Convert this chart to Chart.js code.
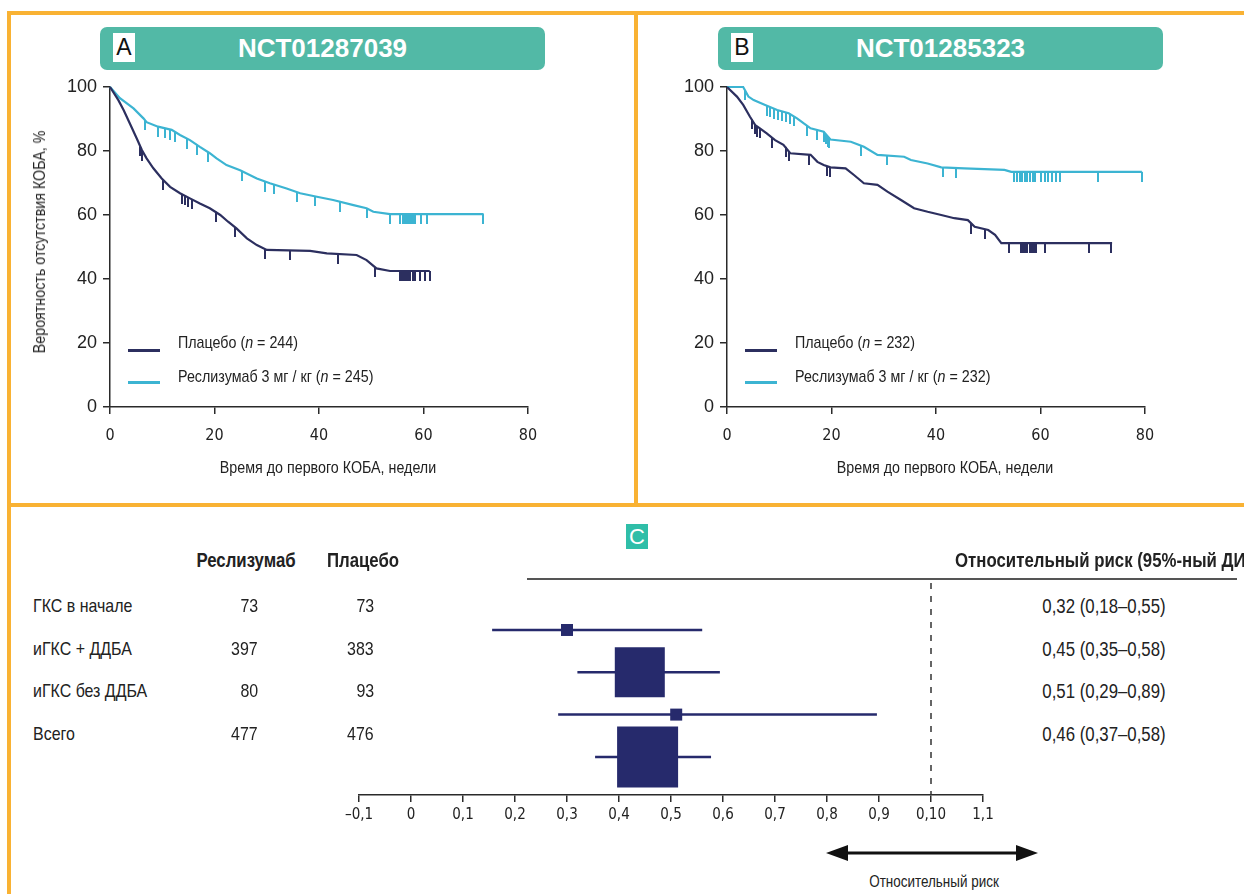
<!DOCTYPE html>
<html lang="ru">
<head>
<meta charset="UTF-8">
<title>Реслизумаб: время до первого КОБА</title>
<script src="https://cdn.jsdelivr.net/npm/chart.js"></script>
<style>
  body { margin: 0; background: #fff; }
  #page { position: relative; width: 1244px; height: 894px; overflow: hidden; background: #fff;
          font-family: 'Liberation Sans', Arial, sans-serif; color: #222; }
  .frame { position: absolute; background: #f9b233; }
  .head { position: absolute; top: 27px; width: 445px; height: 43px; background: #52b9a6; border-radius: 7px; }
  .head .letter { position: absolute; left: 13px; top: 6px; width: 22px; height: 29px; background: #fff; color: #111;
                  font-size: 23px; line-height: 29px; text-align: center; }
  .head .name { position: absolute; left: 0; right: 0; top: 0; text-align: center; color: #fff;
                font-weight: bold; font-size: 26px; line-height: 43px; }
  canvas { position: absolute; }
  /* узкий шрифт: Liberation Sans, сжатый по горизонтали */
  .t { position: absolute; white-space: nowrap; font-size: 19px; line-height: 22px; }
  .t.left { transform: scaleX(0.84); transform-origin: 0 50%; }
  .t.right { transform: scaleX(0.84); transform-origin: 100% 50%; }
  .t.center { transform: translateX(-50%) scaleX(0.84); }
  .t.vert { transform: translate(-50%, -50%) rotate(-90deg) scaleX(0.84); }
  .b { font-weight: bold; }
  .key { position: absolute; width: 32px; height: 2.5px; }
</style>
</head>
<body>
<div id="page">
  <div class="frame" style="left:7px;top:11px;width:1237px;height:4px"></div>
  <div class="frame" style="left:7px;top:11px;width:4px;height:883px"></div>
  <div class="frame" style="left:634px;top:11px;width:4px;height:494px"></div>
  <div class="frame" style="left:7px;top:503px;width:1237px;height:4px"></div>

  <div class="head" style="left:100px"><div class="name">NCT01287039</div><div class="letter">A</div></div>
  <div class="head" style="left:718px"><div class="name">NCT01285323</div><div class="letter">B</div></div>

  <canvas id="kmA" width="560" height="420" style="left:20px;top:75px"></canvas>
  <canvas id="kmB" width="560" height="420" style="left:637px;top:75px"></canvas>

  <div style="position:absolute;left:626px;top:524px;width:22px;height:25px;background:#2fbea8;color:#fff;
              font-size:22px;line-height:25px;text-align:center">C</div>
  <div style="position:absolute;left:527px;top:578px;width:710px;height:2px;background:#555"></div>
  <canvas id="forest" width="680" height="280" style="left:330px;top:560px"></canvas>

  <svg style="position:absolute;left:820px;top:841px" width="224" height="24">
    <line x1="20" y1="12" x2="204" y2="12" stroke="#111" stroke-width="3"/>
    <polygon points="6,12 28,4 28,20" fill="#111"/>
    <polygon points="218,12 196,4 196,20" fill="#111"/>
  </svg>
</div>

<script>
// Панель A: NCT01287039 (неделя, % без КОБА)
const placeboA = [[0,100],[1.6,95.9],[2.6,92.8],[3.8,88.6],[5.1,84],[6.1,80.3],[7,77.7],[8.3,74.6],[9.9,71.4],
  [11.5,68.8],[13.4,66.8],[15.3,65.2],[17.2,63.6],[19.1,62.1],[21.1,60],[22.6,57.9],[24.2,55.8],[26.2,52.7],
  [28.1,50.6],[30,49.1],[38.3,48.8],[41.5,48],[47.2,47.5],[49.1,45.9],[51,43.3],[53.6,42.5],[61.2,42.5]];
const reslizA = [[0,100],[1.9,96.5],[4.5,93.3],[6.4,90.2],[7,89],[9.2,87.6],[11.8,86.6],[13.4,85],[15.3,83.4],
  [17.2,81.3],[19.1,79.3],[20.4,77.7],[22.3,75.6],[24.9,74],[28.1,71.4],[30.6,69.9],[33.8,68.3],[36.4,66.8],
  [39.6,65.7],[42.7,64.7],[46.6,63.1],[49.1,62.1],[50.4,61],[53.6,60.3],[71.5,60.3]];
const placeboACens = [[5.8,81.5],[6.2,80],[10.2,71],[13.7,66.6],[14.3,66.1],[15,65.5],[15.6,64.9],[20.2,61],
  [23.9,56.2],[29.7,49.3],[34.4,49],[43.7,47.8],[50.7,43.7],[55.5,42.5],[55.9,42.5],[56.3,42.5],[56.7,42.5],
  [57.1,42.5],[57.5,42.5],[57.9,42.5],[58.3,42.5],[59.3,42.5],[60.3,42.5],[61.2,42.5]];
const reslizACens = [[6.7,89.6],[9.2,87.6],[10.5,87.1],[11.5,86.7],[12.4,86],[14.7,83.9],[16.6,82],[18.8,79.6],
  [25.2,73.8],[29.7,70.4],[31.3,69.6],[35.7,67.2],[39.2,65.8],[44,64.2],[49.1,62.1],[53.6,60.3],[55.5,60.3],
  [56,60.3],[56.4,60.3],[56.8,60.3],[57.2,60.3],[57.6,60.3],[58,60.3],[58.4,60.3],[59.6,60.3],[60.6,60.3],[71.4,60.3]];

// Панель B: NCT01285323
const placeboB = [[0,100],[1.9,97],[3.1,94.4],[4.4,90.7],[5.4,88.1],[6.3,87.1],[7.6,85.5],[9.2,83.4],[10.8,81.9],
  [12.1,79.3],[16,78.8],[17.3,76.6],[18.5,75.6],[19.8,74.9],[22.7,74.6],[24.3,72.5],[26.2,69.9],[28.8,69.4],
  [30.7,67.3],[33.3,64.7],[35.8,62.1],[38.4,61],[41,60],[43.5,59],[46.1,58.4],[47.4,56.3],[50,55.3],[51.3,53.8],
  [52.5,51.2],[73.7,51.2]];
const reslizB = [[0,100],[3.1,100],[4.1,97],[5.1,95.9],[7.3,94.4],[9.6,92.8],[11.8,91.8],[13.4,90.2],[14.7,88.6],
  [16,87.1],[18.5,86],[19.8,83.6],[23.7,82.9],[26.2,81.3],[28.8,78.8],[33.9,78.2],[35.2,77.2],[38.4,76.1],
  [41,74.9],[45.4,74.6],[53.1,74.1],[54.4,73.5],[79.4,73.5]];
const placeboBCens = [[4.7,89.9],[5.3,88.4],[5.8,87.6],[6.3,87.1],[8.6,84.2],[11.2,81.3],[11.8,79.9],[15.6,78.9],
  [19.2,75.2],[19.8,74.9],[46.7,57.3],[49.4,55.5],[54,51.2],[56.3,51.2],[56.7,51.2],[57.1,51.2],[57.5,51.2],
  [57.9,51.2],[58.3,51.2],[58.7,51.2],[59.2,51.2],[60.8,51.2],[69.2,51.2],[73.5,51.2]];
const reslizBCens = [[3.5,99],[7.6,94.2],[8.3,93.7],[9,93.2],[9.8,92.7],[10.5,92.4],[11.2,92.1],[12,91.6],[12.8,90.8],
  [15.3,87.9],[17.3,86.5],[18.5,86],[18.9,85.3],[19.3,84.5],[19.6,84],[25.6,81.7],[30.6,78.6],[41.3,74.9],[43.8,74.7],
  [55,73.5],[55.5,73.5],[56,73.5],[56.5,73.5],[57,73.5],[57.5,73.5],[58,73.5],[58.5,73.5],[59,73.5],[60,73.5],
  [60.8,73.5],[61.4,73.5],[62.2,73.5],[63,73.5],[63.7,73.5],[71.1,73.5],[79.4,73.5]];

const kmXTicks = [0, 20, 40, 60, 80];
const kmYTicks = [0, 20, 40, 60, 80, 100];
const armNames = ['Плацебо', 'Реслизумаб 3 мг / кг'];
const armNA = [244, 245];
const armNB = [232, 232];

// Панель C: подгруппы
const subgroups = ['ГКС в начале', 'иГКС + ДДБА', 'иГКС без ДДБА', 'Всего'];
const nResliz = [73, 397, 80, 477];
const nPlacebo = [73, 383, 93, 476];
const rrText = ['0,32 (0,18–0,55)', '0,45 (0,35–0,58)', '0,51 (0,29–0,89)', '0,46 (0,37–0,58)'];
const rrPoint = [0.30, 0.44, 0.51, 0.455];
const rrLow = [0.156, 0.32, 0.283, 0.354];
const rrHigh = [0.56, 0.594, 0.896, 0.577];
const forestRows = [1, 2, 3, 4];
const forestTicks = [-0.1, 0, 0.1, 0.2, 0.3, 0.4, 0.5, 0.6, 0.7, 0.8, 0.9, 1.0, 1.1];
const forestTickLabels = ['–0,1', '0', '0,1', '0,2', '0,3', '0,4', '0,5', '0,6', '0,7', '0,8', '0,9', '0,10', '1,1'];

const NARROW = "'DejaVu Sans Condensed', 'Liberation Sans Narrow', sans-serif";
const NAVY = '#2c2f5f';
const TEAL = '#3cb4d2';
const FOREST = '#262a6c';
const AXIS = '#2a2a2a';
const squareSide = [12, 50, 12, 61];   // px
const forestYMin = -0.11, forestYMax = 4.9;

const page = document.getElementById('page');
function addText(txt, x, y, align, extra) {
  const d = document.createElement('div');
  d.className = 't ' + align + (extra && extra.bold ? ' b' : '');
  d.innerHTML = txt;
  if (align === 'vert') { d.style.top = y + 'px'; d.style.left = x + 'px'; }
  else d.style.top = (y - 11) + 'px';
  if (align === 'right') d.style.right = (1244 - x) + 'px';
  else if (align !== 'vert') d.style.left = x + 'px';
  if (extra && extra.size) d.style.fontSize = extra.size + 'px';
  page.appendChild(d);
}

// отметка цензурирования: вертикальный штрих вниз от кривой
function censorMark(color) {
  const c = document.createElement('canvas');
  c.width = 2; c.height = 20;
  const g = c.getContext('2d');
  g.fillStyle = color;
  g.fillRect(0, 10, 2, 10);
  return c;
}

const xy = arr => arr.map(p => ({ x: p[0], y: p[1] }));

function kmChart(id, placebo, resliz, placeboCens, reslizCens) {
  new Chart(document.getElementById(id), {
    type: 'scatter',
    data: {
      datasets: [
        { data: xy(placebo), showLine: true, borderColor: NAVY, borderWidth: 2.2, pointRadius: 0, clip: false },
        { data: xy(resliz), showLine: true, borderColor: TEAL, borderWidth: 2.2, pointRadius: 0, clip: false },
        { data: xy(placeboCens), pointStyle: censorMark(NAVY), pointRadius: 5, clip: false },
        { data: xy(reslizCens), pointStyle: censorMark(TEAL), pointRadius: 5, clip: false }
      ]
    },
    options: {
      responsive: false,
      animation: false,
      events: [],
      layout: { autoPadding: false, padding: { left: 0, top: 12, right: 52, bottom: 0 } },
      plugins: { legend: { display: false }, tooltip: { enabled: false } },
      scales: {
        x: {
          type: 'linear', min: 0, max: 80,
          afterBuildTicks: s => { s.ticks = kmXTicks.map(v => ({ value: v })); },
          afterFit: s => { s.height = 88; },
          grid: { drawOnChartArea: false, tickLength: 7, color: AXIS, lineWidth: 1.5 },
          border: { color: AXIS, width: 1.5 },
          ticks: { padding: 12, color: '#222', font: { family: NARROW, size: 16 } }
        },
        y: {
          type: 'linear', min: 0, max: 100,
          afterBuildTicks: s => { s.ticks = kmYTicks.map(v => ({ value: v })); },
          afterFit: s => { s.width = 90; s.paddingTop = 0; s.paddingBottom = 0; },
          grid: { drawOnChartArea: false, tickLength: 7, color: AXIS, lineWidth: 1.5 },
          border: { color: AXIS, width: 1.5 },
          ticks: { padding: 6, color: '#222', font: { family: "'Liberation Sans', Arial, sans-serif", size: 18 } }
        }
      }
    }
  });
}

kmChart('kmA', placeboA, reslizA, placeboACens, reslizACens);
kmChart('kmB', placeboB, reslizB, placeboBCens, reslizBCens);

// подписи осей и легенды панелей A и B
addText('Вероятность отсутствия КОБА, %', 40, 242, 'vert', { size: 17 });
[[110, armNA], [727, armNB]].forEach(([axisX, ns]) => {
  addText('Время до первого КОБА, недели', axisX + 218, 468, 'center', { size: 17 });
  [NAVY, TEAL].forEach((col, i) => {
    const k = document.createElement('div');
    k.className = 'key';
    k.style.left = (axisX + 18) + 'px';
    k.style.top = (349 + i * 32) + 'px';
    k.style.background = col;
    page.appendChild(k);
    addText(armNames[i] + ' (<i>n</i> = ' + ns[i] + ')', axisX + 68, 343 + i * 34, 'left', { size: 17 });
  });
});

// таблица панели C
addText('Реслизумаб', 246, 560, 'center', { bold: true, size: 20 });
addText('Плацебо', 363, 560, 'center', { bold: true, size: 20 });
addText('Относительный риск (95%-ный ДИ)', 955, 560, 'left', { bold: true, size: 20 });
subgroups.forEach((s, i) => {
  const y = 606 + i * 42.7;
  addText(s, 33, y, 'left');
  addText(String(nResliz[i]), 258, y, 'right');
  addText(String(nPlacebo[i]), 374, y, 'right');
  addText(rrText[i], 1104, y, 'center', { size: 20 });
});
addText('Относительный риск', 934, 882, 'center', { size: 16 });

new Chart(document.getElementById('forest'), {
  type: 'scatter',
  data: {
    datasets: [
      { data: rrPoint.map((v, i) => ({ x: v, y: forestRows[i] })), pointStyle: 'rect',
        pointRadius: squareSide.map(s => s / (2 * Math.SQRT1_2)), backgroundColor: FOREST, borderWidth: 0, order: 0 },
      ...forestRows.map((r, i) => ({
        data: [{ x: rrLow[i], y: r }, { x: rrHigh[i], y: r }], showLine: true,
        borderColor: FOREST, borderWidth: 2.5, pointRadius: 0, order: 1
      })),
      { data: [{ x: 1, y: forestYMin }, { x: 1, y: forestYMax }], showLine: true, borderColor: '#333',
        borderWidth: 1.5, borderDash: [6, 7], pointRadius: 0, order: 2 }
    ]
  },
  options: {
    responsive: false,
    animation: false,
    events: [],
    layout: { autoPadding: false, padding: { left: 29, top: 23, right: 27, bottom: 0 } },
    plugins: { legend: { display: false }, tooltip: { enabled: false } },
    scales: {
      x: {
        type: 'linear', min: -0.1, max: 1.1,
        afterBuildTicks: s => { s.ticks = forestTicks.map(v => ({ value: v })); },
        afterFit: s => { s.height = 45; },
        grid: { drawOnChartArea: false, tickLength: 7, color: AXIS, lineWidth: 1.5 },
        border: { color: AXIS, width: 1.5 },
        ticks: { padding: 4, color: '#222', font: { family: NARROW, size: 15 },
                 callback: (v, i) => forestTickLabels[i] }
      },
      y: { type: 'linear', min: forestYMin, max: forestYMax, reverse: true, display: false }
    }
  }
});
</script>
</body>
</html>
